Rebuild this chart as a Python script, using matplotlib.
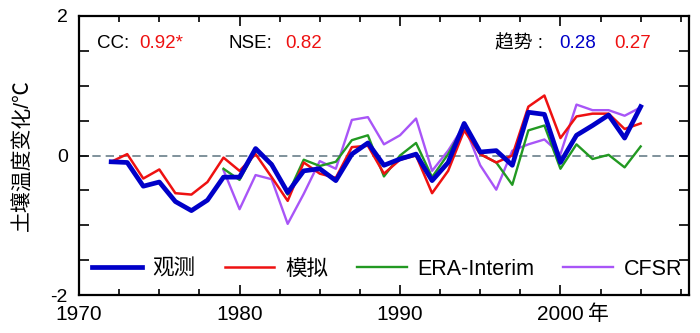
import numpy as np
import matplotlib.pyplot as plt

plt.rcParams['font.family'] = ['Liberation Sans', 'Noto Sans CJK SC', 'DejaVu Sans']

# data (soil temperature anomaly, degC)
years = np.arange(1972, 2006)
obs = [-0.09, -0.10, -0.44, -0.38, -0.66, -0.79, -0.64, -0.31, -0.31, 0.10,
       -0.13, -0.53, -0.22, -0.19, -0.36, 0.02, 0.18, -0.14, -0.05, 0.02,
       -0.36, -0.10, 0.46, 0.05, 0.07, -0.14, 0.62, 0.59, -0.10, 0.29,
       0.43, 0.58, 0.25, 0.70]
sim = [-0.09, 0.02, -0.33, -0.20, -0.54, -0.56, -0.38, -0.03, -0.22, 0.02,
       -0.31, -0.65, -0.10, -0.26, -0.32, 0.12, 0.14, -0.26, -0.06, 0.00,
       -0.54, -0.22, 0.36, 0.02, -0.10, 0.00, 0.70, 0.86, 0.25, 0.56,
       0.60, 0.60, 0.38, 0.46]
years_re = np.arange(1979, 2006)
era = [-0.19, -0.35, 0.07, -0.11, -0.56, -0.06, -0.15, -0.09, 0.22, 0.29,
       -0.30, 0.00, 0.18, -0.31, 0.02, 0.42, 0.02, -0.10, -0.42, 0.36,
       0.43, -0.19, 0.16, -0.05, 0.01, -0.17, 0.13]
cfsr = [-0.21, -0.77, -0.28, -0.34, -0.98, -0.55, -0.08, -0.19, 0.51, 0.55,
        0.16, 0.29, 0.53, -0.22, 0.07, 0.43, -0.14, -0.49, 0.07, 0.16,
        0.23, 0.02, 0.73, 0.65, 0.65, 0.57, 0.69]

fig = plt.figure(figsize=(7, 3.33), dpi=100)
ax = fig.add_axes([0.113, 0.114, 0.871, 0.838])

ax.axhline(0, color='#6a7f8a', lw=1.2, ls=(0, (5, 3)), zorder=1)
ax.plot(years, obs, color='#0000c8', lw=3.4, label='观测', zorder=5)
ax.plot(years, sim, color='#ee1111', lw=1.8, label='模拟', zorder=4)
ax.plot(years_re, era, color='#229922', lw=1.7, label='ERA-Interim', zorder=3)
ax.plot(years_re, cfsr, color='#a855f7', lw=1.7, label='CFSR', zorder=2)

ax.set_xlim(1970, 2008)
ax.set_ylim(-2, 2)
ax.set_xticks([1970, 1980, 1990, 2000])
ax.set_xticklabels(['1970', '1980', '1990', '2000'])
ax.set_xticks(np.arange(1972.5, 2008, 2.5), minor=True)
ax.set_yticks(np.arange(-2, 2.01, 0.5))
ax.set_yticklabels(['-2', '', '', '', '0', '', '', '', '2'])
ax.tick_params(which='both', direction='in', top=True, right=True, width=1.2)
ax.tick_params(which='major', length=7)
ax.tick_params(which='minor', length=4)
ax.tick_params(axis='x', labelsize=15, pad=7)
ax.tick_params(axis='y', labelsize=14, pad=8)
for s in ax.spines.values():
    s.set_linewidth(1.6)

ax.annotate('年', xy=(2001.7, -2), xytext=(0, -7), textcoords='offset points',
            fontsize=15, va='top', ha='left', annotation_clip=False)

ax.set_ylabel('土壤温度变化/℃', fontsize=15, labelpad=13)

fs = 13.5
ax.text(0.03, 0.9, 'CC:', transform=ax.transAxes, fontsize=fs, va='center')
ax.text(0.098, 0.9, '0.92*', transform=ax.transAxes, fontsize=fs, va='center', color='#ee1111')
ax.text(0.245, 0.9, 'NSE:', transform=ax.transAxes, fontsize=fs, va='center')
ax.text(0.338, 0.9, '0.82', transform=ax.transAxes, fontsize=fs, va='center', color='#ee1111')
ax.text(0.682, 0.9, '趋势 :', transform=ax.transAxes, fontsize=fs, va='center')
ax.text(0.787, 0.9, '0.28', transform=ax.transAxes, fontsize=fs, va='center', color='#0000c8')
ax.text(0.877, 0.9, '0.27', transform=ax.transAxes, fontsize=fs, va='center', color='#ee1111')

ax.legend(loc='lower left', ncol=4, frameon=False, fontsize=15.5,
          bbox_to_anchor=(-0.003, 0.0), handlelength=2.3, columnspacing=1.35,
          handletextpad=0.5, borderaxespad=0.3)

fig.savefig('out.png', dpi=100)
